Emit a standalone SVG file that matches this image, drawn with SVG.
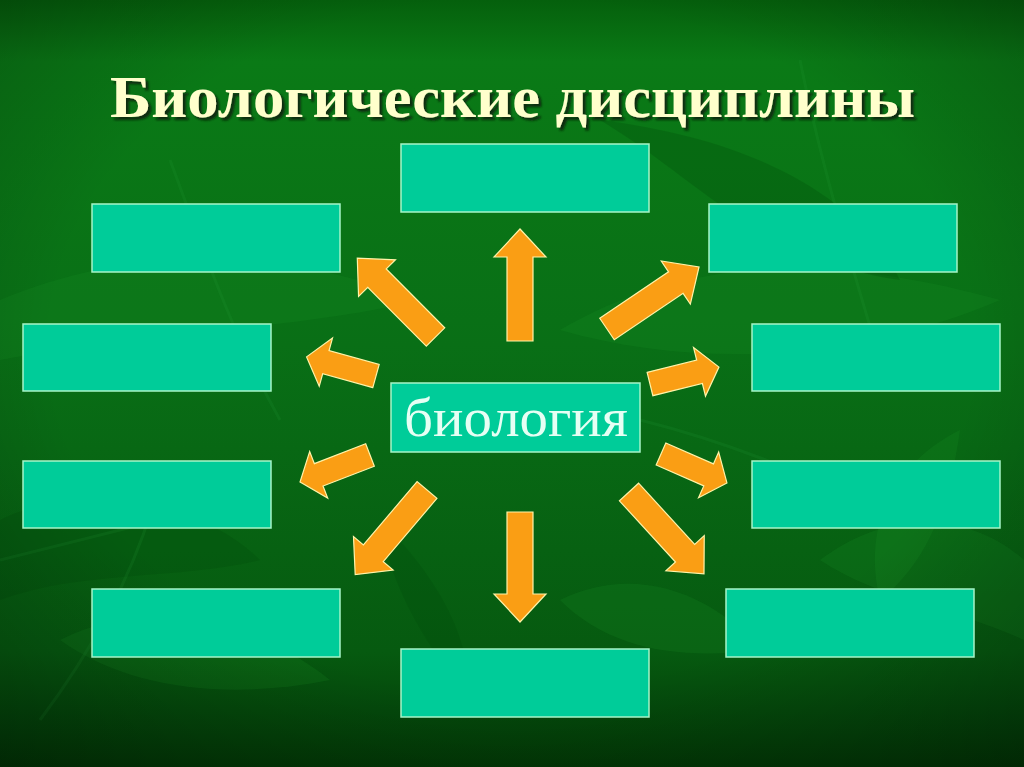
<svg xmlns="http://www.w3.org/2000/svg" width="1024" height="767" viewBox="0 0 1024 767">
  <defs>
    <linearGradient id="bg" x1="0" y1="0" x2="0" y2="1">
      <stop offset="0" stop-color="#05600c"/>
      <stop offset="0.08" stop-color="#0a7a16"/>
      <stop offset="0.45" stop-color="#096f16"/>
      <stop offset="0.85" stop-color="#065a10"/>
      <stop offset="1" stop-color="#023806"/>
    </linearGradient>
    <radialGradient id="vig" cx="0.5" cy="0.45" r="0.75">
      <stop offset="0.6" stop-color="#000" stop-opacity="0"/>
      <stop offset="1" stop-color="#000" stop-opacity="0.3"/>
    </radialGradient>
    <filter id="shadow" x="-5%" y="-20%" width="110%" height="150%">
      <feDropShadow dx="3" dy="3" stdDeviation="1" flood-color="#102008" flood-opacity="0.9"/>
    </filter>
  </defs>
  <style>
    .box { fill: #00cc99; stroke: #a6f5c8; stroke-width: 1.5; }
    .arr { fill: #fa9e14; stroke: #fff3a8; stroke-width: 1.2; stroke-linejoin: miter; }
    .leaf { fill: #1f9a2a; opacity: 0.16; }
    .leafd { fill: #004d0a; opacity: 0.28; }
    .stem { fill: none; stroke: #2aa040; stroke-width: 3; opacity: 0.14; }
    .title { font-family: "Liberation Serif", "Times New Roman", serif; font-weight: bold; font-size: 60px; fill: #ffffcc; }
    .center { font-family: "Liberation Serif", "Times New Roman", serif; font-size: 54px; fill: #e6fff4; }
  </style>

  <g id="background">
    <rect x="0" y="0" width="1024" height="767" fill="url(#bg)"/>
    <path class="leaf" d="M0,300 C120,250 260,240 420,300 C300,330 150,330 0,360 Z"/>
    <path class="leaf" d="M560,330 C680,260 820,250 1000,300 C860,360 700,370 560,330 Z"/>
    <path class="leafd" d="M600,120 C700,180 760,260 900,280 C860,200 760,140 600,120 Z"/>
    <path class="leaf" d="M820,560 C900,500 980,520 1024,560 L1024,640 C960,610 880,600 820,560 Z"/>
    <path class="leaf" d="M880,600 C860,520 900,460 960,430 C950,500 930,560 880,600 Z"/>
    <path class="leafd" d="M0,520 C80,480 200,500 260,560 C180,580 80,570 0,600 Z"/>
    <path class="leaf" d="M60,640 C140,600 240,610 330,680 C230,700 130,690 60,640 Z"/>
    <path class="leaf" d="M560,600 C640,560 720,600 760,650 C680,660 610,650 560,600 Z"/>
    <path class="leafd" d="M380,520 C420,560 470,620 470,700 C430,650 390,590 380,520 Z"/>
    <path class="stem" d="M170,160 C200,240 230,330 280,420"/>
    <path class="stem" d="M800,60 C820,160 850,260 880,360"/>
    <path class="stem" d="M0,560 C80,540 160,520 240,500"/>
    <path class="stem" d="M640,420 C720,440 800,470 900,520"/>
    <path class="stem" d="M40,720 C100,640 140,560 160,480"/>
    <rect x="0" y="0" width="1024" height="767" fill="url(#vig)"/>
  </g>

  <g id="title">
    <text class="title" x="110" y="117" textLength="805" lengthAdjust="spacingAndGlyphs" filter="url(#shadow)">Биологические дисциплины</text>
  </g>

  <g id="node-center">
    <rect class="box" x="391" y="383" width="249" height="69"/>
    <text class="center" x="404" y="436" textLength="224" lengthAdjust="spacingAndGlyphs">биология</text>
  </g>

  <g id="node-top"><rect class="box" x="401" y="144" width="248" height="68"/></g>
  <g id="node-left1"><rect class="box" x="92" y="204" width="248" height="68"/></g>
  <g id="node-right1"><rect class="box" x="709" y="204" width="248" height="68"/></g>
  <g id="node-left2"><rect class="box" x="23" y="324" width="248" height="67"/></g>
  <g id="node-right2"><rect class="box" x="752" y="324" width="248" height="67"/></g>
  <g id="node-left3"><rect class="box" x="23" y="461" width="248" height="67"/></g>
  <g id="node-right3"><rect class="box" x="752" y="461" width="248" height="67"/></g>
  <g id="node-left4"><rect class="box" x="92" y="589" width="248" height="68"/></g>
  <g id="node-right4"><rect class="box" x="726" y="589" width="248" height="68"/></g>
  <g id="node-bottom"><rect class="box" x="401" y="649" width="248" height="68"/></g>

  <g id="connectors">
    <path class="arr" transform="translate(520,341) rotate(-90)" d="M0,-13 L84,-13 L84,-26 L112,0 L84,26 L84,13 L0,13 Z"/>
    <path class="arr" transform="translate(520,512) rotate(90)" d="M0,-13 L82,-13 L82,-26 L110,0 L82,26 L82,13 L0,13 Z"/>
    <path class="arr" transform="translate(435.5,337) rotate(-134.8)" d="M0,-13 L83,-13 L83,-26 L111,0 L83,26 L83,13 L0,13 Z"/>
    <path class="arr" transform="translate(607,329) rotate(-34)" d="M0,-13 L83,-13 L83,-26 L111,0 L83,26 L83,13 L0,13 Z"/>
    <path class="arr" transform="translate(376,376) rotate(-164.6)" d="M0,-12 L52,-12 L52,-25 L72,0 L52,25 L52,12 L0,12 Z"/>
    <path class="arr" transform="translate(650,384) rotate(-13.8)" d="M0,-12 L51,-12 L51,-25 L71,0 L51,25 L51,12 L0,12 Z"/>
    <path class="arr" transform="translate(370,455) rotate(158.9)" d="M0,-12 L55,-12 L55,-25 L75,0 L55,25 L55,12 L0,12 Z"/>
    <path class="arr" transform="translate(661,454) rotate(23.7)" d="M0,-12 L52,-12 L52,-25 L72,0 L52,25 L52,12 L0,12 Z"/>
    <path class="arr" transform="translate(427,490) rotate(130.3)" d="M0,-13 L83,-13 L83,-26 L111,0 L83,26 L83,13 L0,13 Z"/>
    <path class="arr" transform="translate(629,492) rotate(47.5)" d="M0,-13 L83,-13 L83,-26 L111,0 L83,26 L83,13 L0,13 Z"/>
  </g>
</svg>
